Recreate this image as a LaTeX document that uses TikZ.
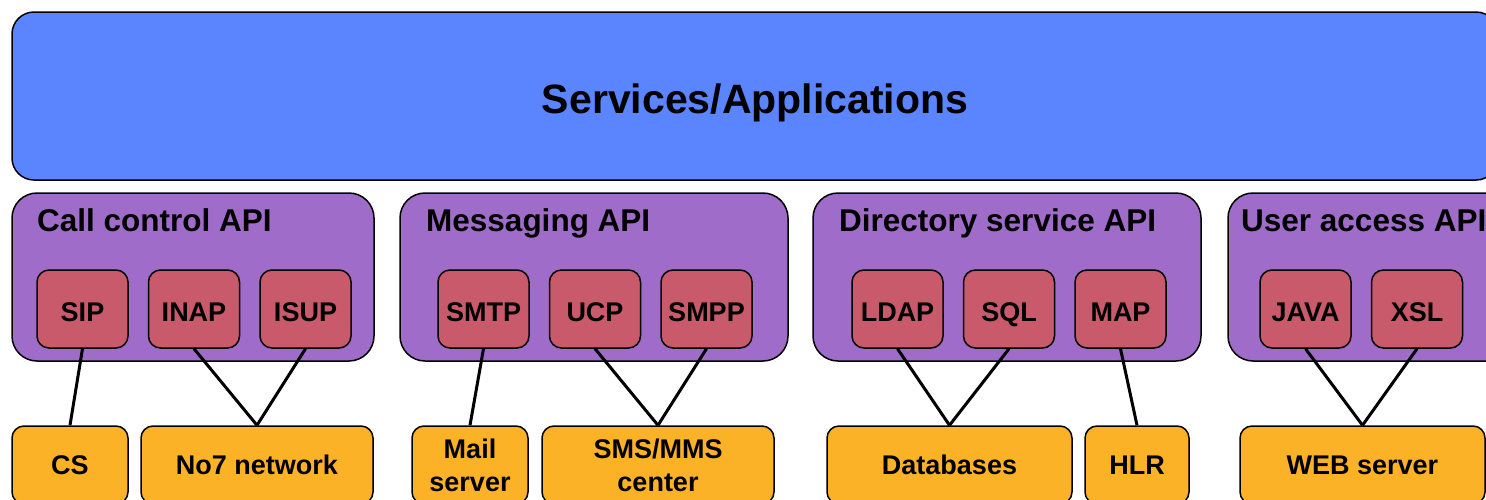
\documentclass[tikz,border=0pt]{standalone}
\usepackage{fontspec}
\setmainfont{Liberation Sans}
\usetikzlibrary{positioning}

\definecolor{appblue}{HTML}{5B84FF}
\definecolor{apipurple}{HTML}{A06CC9}
\definecolor{protored}{HTML}{C95A6C}
\definecolor{extorange}{HTML}{FBB227}

\begin{document}
\begin{tikzpicture}[x=1pt,y=-1pt,inner sep=0pt,
  app box/.style={rectangle,rounded corners=22pt,draw,line width=1.5pt,fill=appblue,
    minimum width=1486pt,minimum height=168pt,text height=34pt,text depth=0pt,
    font=\fontsize{41}{49}\selectfont\bfseries},
  api box/.style={rectangle,rounded corners=25pt,draw,line width=1.5pt,fill=apipurple,
    minimum width=388pt,minimum height=168pt},
  api title/.style={anchor=base west,font=\fontsize{31.5}{38}\selectfont\bfseries},
  proto node/.style={rectangle,rounded corners=12pt,draw,line width=1.5pt,fill=protored,
    minimum width=91pt,minimum height=78pt,text height=24pt,text depth=0pt,
    font=\fontsize{27}{33}\selectfont\bfseries},
  ext node/.style={rectangle,rounded corners=12pt,draw,line width=1.5pt,fill=extorange,
    minimum height=78pt,align=center,font=\fontsize{27}{33}\selectfont\bfseries}]

 \useasboundingbox (0,0) rectangle (1486,499);
 \clip (0,0) rectangle (1486,499);

 \node[app box] (app) at (755,96) {Services/Applications};

 \node[api box,minimum width=362pt] (callapi) at (193,277) {};
 \node[api box] (msgapi) at (594,277) {};
 \node[api box] (dirapi) at (1007,277) {};
 \node[api box] (userapi) at (1422,277) {};

 \node[api title] (calltitle) at (37,231) {Call control API};
 \node[api title] (msgtitle) at (426,231) {Messaging API};
 \node[api title] (dirtitle) at (839,231) {Directory service API};
 \node[api title] (usertitle) at (1241,231) {User access API};

 \node[proto node] (sip) at (82.5,309) {SIP};
 \node[proto node] (inap) [right=19pt of sip] {INAP};
 \node[proto node] (isup) [right=19pt of inap] {ISUP};
 \node[proto node] (smtp) at (483.5,309) {SMTP};
 \node[proto node] (ucp) [right=19pt of smtp] {UCP};
 \node[proto node] (smpp) [right=19pt of ucp] {SMPP};
 \node[proto node] (ldap) at (897.5,309) {LDAP};
 \node[proto node] (sql) [right=19pt of ldap] {SQL};
 \node[proto node] (map) [right=19pt of sql] {MAP};
 \node[proto node] (java) at (1305.5,309) {JAVA};
 \node[proto node] (xsl) [right=19pt of java] {XSL};

 \node[ext node,minimum width=116pt] (cs) at (70,465) {CS};
 \node[ext node,minimum width=232pt] (no7) at (257,465) {No7 network};
 \node[ext node,minimum width=116pt] (mail) at (470,465) {Mail\\server};
 \node[ext node,minimum width=232pt] (smsc) at (658,465) {SMS/MMS\\center};
 \node[ext node,minimum width=245pt] (db) at (949.5,465) {Databases};
 \node[ext node,minimum width=104pt] (hlr) at (1137,465) {HLR};
 \node[ext node,minimum width=245pt] (web) at (1362.5,465) {WEB server};

 \path[line width=3pt]
    (sip.south)	 edge (cs.north)
    (inap.south) edge (no7.north)
    (isup.south) edge (no7.north)
    (smtp.south) edge (mail.north)
    (ucp.south)	 edge (smsc.north)
    (smpp.south) edge (smsc.north)
    (ldap.south) edge (db.north)
    (sql.south)	 edge (db.north)
    (map.south)	 edge (hlr.north)
    (java.south) edge (web.north)
    (xsl.south)	 edge (web.north);

\end{tikzpicture}
\end{document}
